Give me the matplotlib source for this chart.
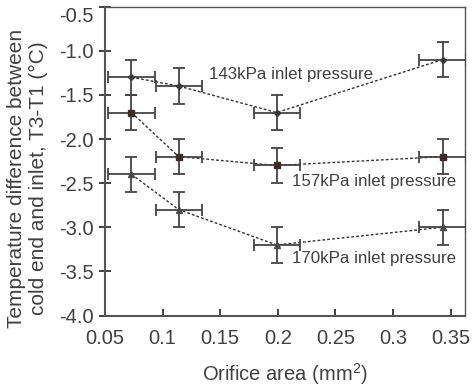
import matplotlib.pyplot as plt
import matplotlib.transforms as mtransforms
import numpy as np

plt.rcParams.update({
    "font.family": ["Liberation Sans", "DejaVu Sans"],
    "font.size": 14.5,
    "mathtext.fontset": "custom",
    "mathtext.rm": "Liberation Sans",
})

# data
area = [0.073, 0.114, 0.199, 0.343]
area_err = [0.02, 0.02, 0.02, 0.02]
dt_143 = [-1.3, -1.4, -1.7, -1.1]
dt_157 = [-1.7, -2.2, -2.3, -2.2]
dt_170 = [-2.4, -2.8, -3.2, -3.0]
dt_err = [0.2, 0.2, 0.2, 0.2]

series = [
    (dt_143, "D", 3, "#3a3a3a", "143kPa inlet pressure", (0.140, -1.265)),
    (dt_157, "s", 5, "#3b2c2c", "157kPa inlet pressure", (0.212, -2.48)),
    (dt_170, "^", 4.5, "#4a4a4a", "170kPa inlet pressure", (0.212, -3.35)),
]

fig, ax = plt.subplots(figsize=(4.74, 3.9), dpi=100)

for vals, mk, ms, col, label, (tx, ty) in series:
    ax.plot(area, vals, linestyle=(0, (2, 1.5)), color="#333333", linewidth=1.0, zorder=2)
    ax.errorbar(area, vals, xerr=area_err, yerr=dt_err, fmt=mk, markersize=ms,
                color="#444444", mfc=col, mec=col, ecolor="#444444",
                elinewidth=1.3, capsize=4, capthick=1.3, zorder=3)
    ax.text(tx, ty, label, fontsize=12.2, color="#404040", ha="left", va="center")

ax.set_xlim(0.05, 0.3625)
ax.set_ylim(-4.0, -0.5)
ax.set_xticks([0.05, 0.1, 0.15, 0.2, 0.25, 0.3, 0.35])
ax.set_xticklabels(["0.05", "0.1", "0.15", "0.2", "0.25", "0.3", "0.35"])
yt = np.arange(-4.0, -0.49, 0.5)
ax.set_yticks(yt)
ax.set_yticklabels([f"{v:.1f}" for v in yt])

ax.tick_params(axis="x", direction="in", length=5, width=1.3, pad=10,
               colors="#333333", labelcolor="#404040")
ax.tick_params(axis="y", direction="inout", length=8, width=1.3, pad=4,
               colors="#333333", labelcolor="#404040")

# nudge the top y label down so it stays inside the figure
fig.canvas.draw()
top_lab = ax.get_yticklabels()[-1]
top_lab.set_transform(top_lab.get_transform() +
                      mtransforms.ScaledTranslation(0, -6 / 72, fig.dpi_scale_trans))

for s in ax.spines.values():
    s.set_color("#555555")
    s.set_linewidth(1.0)
ax.spines["left"].set_linewidth(1.5)
ax.spines["bottom"].set_linewidth(1.5)

ax.set_xlabel("Orifice area (mm$^2$)", color="#404040", labelpad=9)
ax.set_ylabel("Temperature difference between\ncold end and inlet, T3-T1 (°C)",
              color="#404040", fontsize=15)
ax.yaxis.label.set_va("center")
ax.yaxis.set_label_coords(-0.215, 0.445)

plt.subplots_adjust(left=0.2215, right=0.981, top=0.983, bottom=0.191)
plt.savefig("out.png", dpi=100)
